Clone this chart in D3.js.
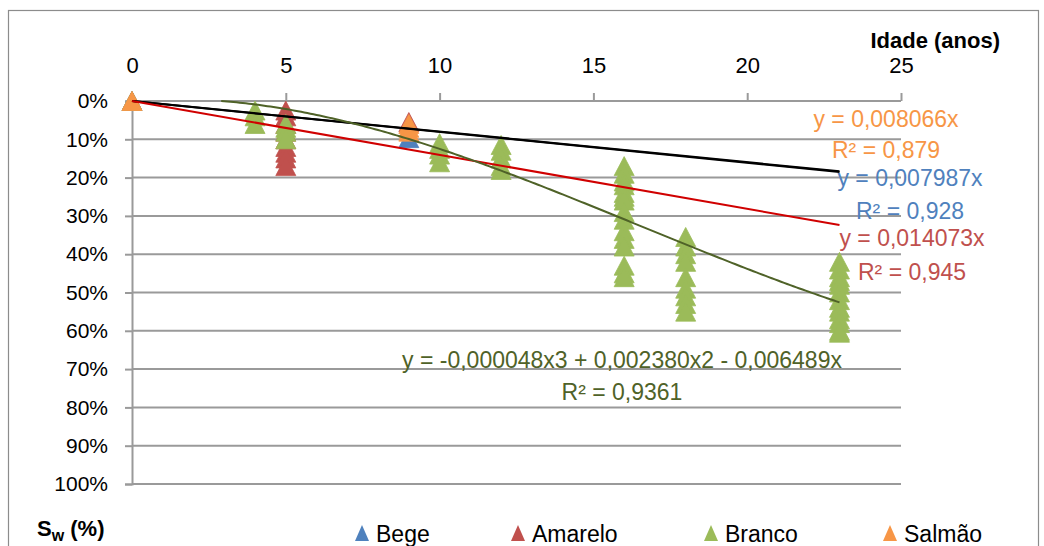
<!DOCTYPE html>
<html><head><meta charset="utf-8">
<script src="https://cdn.jsdelivr.net/npm/d3@7"></script>
<style>body{margin:0;background:#fff}svg{display:block}text{font-family:"Liberation Sans",Arial,sans-serif}</style>
</head><body><svg id="c" width="1044" height="546"></svg>
<script>
// ---- data ----
const xTicks = [0, 5, 10, 15, 20, 25];
const yTicks = [0, 10, 20, 30, 40, 50, 60, 70, 80, 90, 100];
const seriesNames = ["Bege", "Amarelo", "Branco", "Salmão"];
const seriesColors = ["#4F81BD", "#C0504D", "#9BBB59", "#F79646"];
const begeAge = [0, 9];
const begeSw  = [0, 9.7];
const amareloAge = [0, 5, 5, 5, 5, 5, 5, 5, 5, 5, 9];
const amareloSw  = [0, 2.5, 4, 6, 8, 10, 12, 13.5, 15, 17, 5.5];
const brancoAge = [0, 4, 4, 4, 5, 5, 5, 5, 10, 10, 10, 10, 12, 12, 12, 12, 12,
  16, 16, 16, 16, 16, 16, 16, 16, 16, 16, 16, 16, 16, 16, 16,
  18, 18, 18, 18, 18, 18, 18, 18, 18,
  23, 23, 23, 23, 23, 23, 23, 23, 23, 23, 23, 23, 23];
const brancoSw = [0, 2.5, 4, 6, 6, 7, 8, 10, 11, 12.5, 14, 16, 11.5, 13, 15, 17, 18,
  17, 19, 21, 22, 24, 25, 26, 29, 31, 34, 36, 38, 43, 45, 46,
  35.5, 38, 40, 42, 46, 49, 51, 53, 55,
  42, 44, 46, 47, 48, 50, 52, 54, 55, 57, 58, 60, 60.5];
const salmaoAge = [0, 9, 9, 9];
const salmaoSw  = [0, 6, 7, 8];
// trendline coefficients (fraction per year)
const begeSlope = 0.007987, salmaoSlope = 0.008066, amareloSlope = 0.014073;
const brancoPoly = [-0.000048, 0.002380, -0.006489];
const trendMaxAge = 23;

const svg = d3.select("#c");
const x = d3.scaleLinear().domain([0, 25]).range([132, 901]);
const y = d3.scaleLinear().domain([0, 100]).range([101, 484]);

// frame
svg.append("rect").attr("x", 8.5).attr("y", 10.5).attr("width", 1030).attr("height", 560)
  .attr("fill", "none").attr("stroke", "#8c8c8c").attr("stroke-width", 1.2);

// gridlines
svg.append("g").selectAll("line").data(yTicks).join("line")
  .attr("x1", x(0)).attr("x2", x(25)).attr("y1", d => y(d)).attr("y2", d => y(d))
  .attr("stroke", "#9a9a9a").attr("stroke-width", 2);

// x axis at top
const xAx = svg.append("g").attr("transform", `translate(0,${y(0)})`)
  .call(d3.axisTop(x).tickValues(xTicks).tickSize(8).tickPadding(20).tickFormat(d3.format("d")));
xAx.select(".domain").remove();
xAx.selectAll("line").attr("stroke", "#9a9a9a").attr("stroke-width", 2);
xAx.selectAll("text").attr("font-size", 22).attr("fill", "#000").style("font-family", "Liberation Sans");

// y axis
const yAx = svg.append("g").attr("transform", `translate(${x(0)},0)`)
  .call(d3.axisLeft(y).tickValues(yTicks).tickSize(7).tickPadding(17).tickFormat(d => d + "%"));
yAx.select(".domain").attr("stroke", "#9a9a9a").attr("stroke-width", 2);
yAx.selectAll("line").attr("stroke", "#9a9a9a").attr("stroke-width", 2);
yAx.selectAll("text").attr("font-size", 21).attr("fill", "#000").style("font-family", "Liberation Sans");

// points
const tri = "M0,-9.5L10,9.5L-10,9.5Z";
const series = [
  [begeAge, begeSw], [amareloAge, amareloSw], [brancoAge, brancoSw], [salmaoAge, salmaoSw]
];
series.forEach(([ages, sws], i) => {
  svg.append("g").selectAll("path").data(ages.map((a, j) => [a, sws[j]])).join("path")
    .attr("d", tri).attr("transform", d => `translate(${x(d[0])},${y(d[1])})`)
    .attr("fill", seriesColors[i]).attr("stroke", seriesColors[i]).attr("stroke-width", 0.8);
});

// trendlines
const line = d3.line().x(d => x(d[0])).y(d => y(d[1]));
const lin = s => [[0, 0], [trendMaxAge, s * trendMaxAge * 100]];
svg.append("path").attr("d", line(lin(begeSlope))).attr("stroke", "#000").attr("stroke-width", 2).attr("fill", "none");
svg.append("path").attr("d", line(lin(salmaoSlope))).attr("stroke", "#000").attr("stroke-width", 2).attr("fill", "none");
svg.append("path").attr("d", line(lin(amareloSlope))).attr("stroke", "#D00000").attr("stroke-width", 2).attr("fill", "none");
const poly = t => (brancoPoly[0] * t * t * t + brancoPoly[1] * t * t + brancoPoly[2] * t) * 100;
const polyPts = d3.range(2.9, trendMaxAge + 0.001, 0.1).map(t => [t, Math.max(0, poly(t))]);
svg.append("path").attr("d", line(polyPts)).attr("stroke", "#4F6228").attr("stroke-width", 2).attr("fill", "none");

// equation labels
const labels = [
  ["y = 0,008066x", 886, 127, "#F79646"],
  ["R² = 0,879", 886, 158, "#F79646"],
  ["y = 0,007987x", 910, 186, "#4F81BD"],
  ["R² = 0,928", 910, 219, "#4F81BD"],
  ["y = 0,014073x", 912, 246, "#C0504D"],
  ["R² = 0,945", 912, 280, "#C0504D"],
  ["y = -0,000048x3 + 0,002380x2 - 0,006489x", 622, 368, "#4F6228"],
  ["R² = 0,9361", 622, 400, "#4F6228"]
];
svg.append("g").selectAll("text").data(labels).join("text")
  .attr("x", d => d[1]).attr("y", d => d[2]).attr("text-anchor", "middle")
  .attr("font-size", 23).attr("fill", d => d[3]).text(d => d[0]);

// axis titles
svg.append("text").attr("x", 1000).attr("y", 48).attr("text-anchor", "end")
  .attr("font-size", 22).attr("font-weight", "bold").text("Idade (anos)");
const sw = svg.append("text").attr("x", 37).attr("y", 536).attr("font-size", 22).attr("font-weight", "bold");
sw.append("tspan").text("S");
sw.append("tspan").attr("font-size", 16).attr("dy", 5).text("w");
sw.append("tspan").attr("dy", -5).text(" (%)");

// legend
const legX = [362, 518, 711, 890];
const leg = svg.append("g").selectAll("g").data(seriesNames).join("g")
  .attr("transform", (d, i) => `translate(${legX[i]},533)`);
leg.append("path").attr("d", "M0,-8L7,8L-7,8Z").attr("fill", (d, i) => seriesColors[i]);
leg.append("text").attr("x", 14).attr("y", 9).attr("font-size", 23).text(d => d);
</script></body></html>
